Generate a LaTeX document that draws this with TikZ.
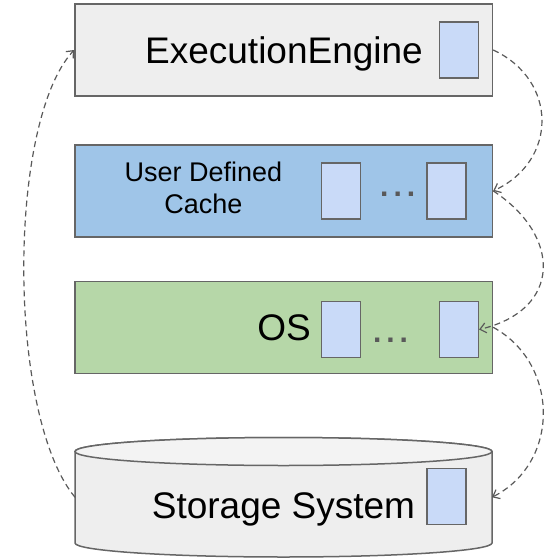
\documentclass[tikz,border=0pt]{standalone}
\usepackage{fontspec}
\setmainfont{Liberation Sans}
\usetikzlibrary{arrows.meta}
\definecolor{edge}{HTML}{666666}
\definecolor{flow}{HTML}{595959}
\definecolor{enginefill}{HTML}{EEEEEE}
\definecolor{cachefill}{HTML}{9FC5E8}
\definecolor{osfill}{HTML}{B6D7A8}
\definecolor{blockfill}{HTML}{C9DAF8}
\definecolor{disktop}{HTML}{F3F3F3}
\tikzset{
  layer/.style={draw=edge, line width=1.5pt, minimum width=417.5pt, minimum height=92pt, inner sep=0pt},
  block/.style={draw=edge, fill=blockfill, line width=1.5pt, minimum width=39pt, minimum height=56pt, inner sep=0pt},
  bigtext/.style={anchor=base, inner sep=0pt, font=\fontsize{37}{40}\selectfont},
  smalltext/.style={anchor=base, inner sep=0pt, font=\fontsize{27}{30}\selectfont},
  dots/.style={anchor=base, inner sep=0pt, text=flow, font=\bfseries\fontsize{30}{32}\selectfont},
  flowline/.style={draw=flow, line width=1.2pt, dash pattern=on 6pt off 4pt,
    -{Straight Barb[length=6pt,width=10pt,line width=1.2pt]}},
}
\newcommand{\gapdots}{.\hspace{5pt}.\hspace{5pt}.}
\begin{document}
\begin{tikzpicture}[x=1pt,y=1pt]
\useasboundingbox (0,0) rectangle (548,-559);

% execution engine layer
\node[layer, fill=enginefill] (ee) at (283.7,-50) {};
\node[block] (eeb) at (459,-50) {};
\node[bigtext] (eet) at (284,-63.3) {ExecutionEngine};

% user defined cache layer
\node[layer, fill=cachefill] (udc) at (283.7,-190.9) {};
\node[block] (udc1) at (340.8,-191) {};
\node[block] (udc2) at (446.3,-191) {};
\node[smalltext] (udct1) at (203.5,-181.7) {User Defined};
\node[smalltext] (udct2) at (203.5,-213.3) {Cache};
\node[dots] (udcd) at (397.7,-196) {\gapdots};

% operating system layer
\node[layer, fill=osfill] (os) at (283.7,-327.3) {};
\node[block] (os1) at (341,-329.5) {};
\node[block] (os2) at (458.8,-329.5) {};
\node[bigtext] (ost) at (284,-340.5) {OS};
\node[dots] (osd) at (390.5,-342) {\gapdots};

% storage system cylinder
\node[minimum width=417pt, minimum height=91.5pt, inner sep=0pt, outer sep=0pt] (st) at (283.5,-497.25) {};
\path[draw=edge, fill=enginefill, line width=1.5pt]
  (75,-451.5) -- (75,-543) arc[start angle=180, end angle=360, x radius=208.5, y radius=14]
  -- (492,-451.5) arc[start angle=0, end angle=180, x radius=208.5, y radius=14] -- cycle;
\path[draw=edge, fill=disktop, line width=1.5pt]
  (283.5,-451.5) ellipse[x radius=208.5, y radius=14];
\node[block] (stb) at (446.7,-496.7) {};
\node[bigtext] (stt) at (283.5,-518.3) {Storage System};

% data flow
\draw[flowline] (st.west) .. controls (7,-415) and (7,-122) .. (ee.west);
\draw[flowline] (ee.east) .. controls (558,-80) and (558,-161) .. (udc.east);
\draw[flowline] (udc.east) .. controls (562,-236) and (562,-310) .. (os2.east);
\draw[flowline] (os.east) .. controls (560,-364) and (560,-463) .. (st.east);
\end{tikzpicture}
\end{document}
